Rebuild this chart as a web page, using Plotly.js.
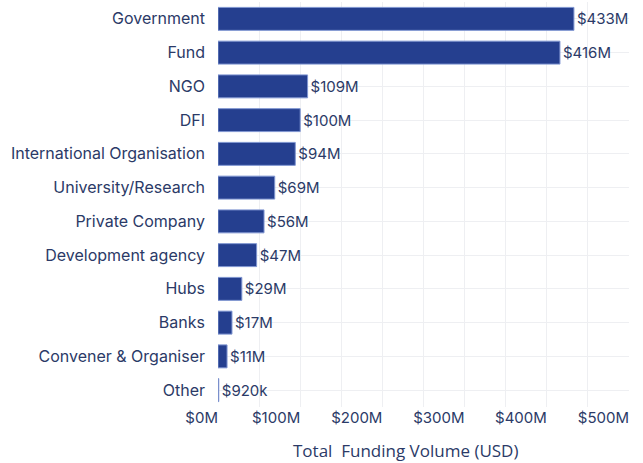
<!DOCTYPE html>
<html>
<head>
<meta charset="utf-8">
<script src="https://cdn.plot.ly/plotly-3.0.1.min.js"></script>
<style>html,body{margin:0;padding:0;background:#fff}#chart{width:643px;height:463px}</style>
</head>
<body>
<div id="chart"></div>
<script>
const categories = ["Government","Fund","NGO","DFI","International Organisation","University/Research","Private Company","Development agency","Hubs","Banks","Convener & Organiser","Other"];
const valuesUSD = [433e6,416e6,109e6,100e6,94e6,69e6,56e6,47e6,29e6,17e6,11e6,0.92e6];
const valueLabels = ["$433M","$416M","$109M","$100M","$94M","$69M","$56M","$47M","$29M","$17M","$11M","$920k"];
const tickValues = [0,100e6,200e6,300e6,400e6,500e6];
const tickLabels = ["$0M","$100M","$200M","$300M","$400M","$500M"];
const axisTitle = "Total  Funding Volume (USD)";

const textColor = "#2b3a67";
const tickFont = {family: "Inter, 'Noto Sans', sans-serif", size: 15, color: textColor};
const catFont = {family: "Inter, 'Noto Sans', sans-serif", size: 16, color: textColor};

const trace = {
  type: "bar",
  orientation: "h",
  y: categories,
  x: valuesUSD,
  text: valueLabels,
  textposition: "outside",
  cliponaxis: false,
  textfont: tickFont,
  marker: {color: "#253f8f", line: {color: "#7f95d1", width: 1}},
  width: 0.68,
  hoverinfo: "none"
};

const layout = {
  width: 643, height: 463,
  margin: {l: 218, r: 14, t: 2, b: 56},
  paper_bgcolor: "#ffffff",
  plot_bgcolor: "#ffffff",
  showlegend: false,
  font: tickFont,
  xaxis: {
    range: [0, 500e6],
    tickvals: tickValues,
    ticktext: tickLabels,
    ticklabelposition: "outside left",
    showgrid: true,
    gridcolor: "#eeeff2",
    gridwidth: 1,
    minor: {dtick: 50e6, showgrid: true, gridcolor: "#eeeff2", gridwidth: 1},
    zeroline: false,
    showline: false,
    ticks: "",
    tickfont: tickFont,
    fixedrange: true
  },
  yaxis: {
    type: "category",
    autorange: "reversed",
    showgrid: true,
    gridcolor: "#eeeff2",
    ticks: "",
    ticklabelstandoff: 12,
    tickfont: catFont,
    fixedrange: true
  },
  annotations: [{
    text: axisTitle,
    xref: "paper", yref: "paper",
    x: 0.456, y: -56/405,
    xanchor: "center", yanchor: "bottom",
    borderpad: 0,
    showarrow: false,
    font: {family: "'Open Sans', sans-serif", size: 17, color: textColor}
  }]
};

Plotly.newPlot("chart", [trace], layout, {displayModeBar: false, staticPlot: true});
</script>
</body>
</html>
